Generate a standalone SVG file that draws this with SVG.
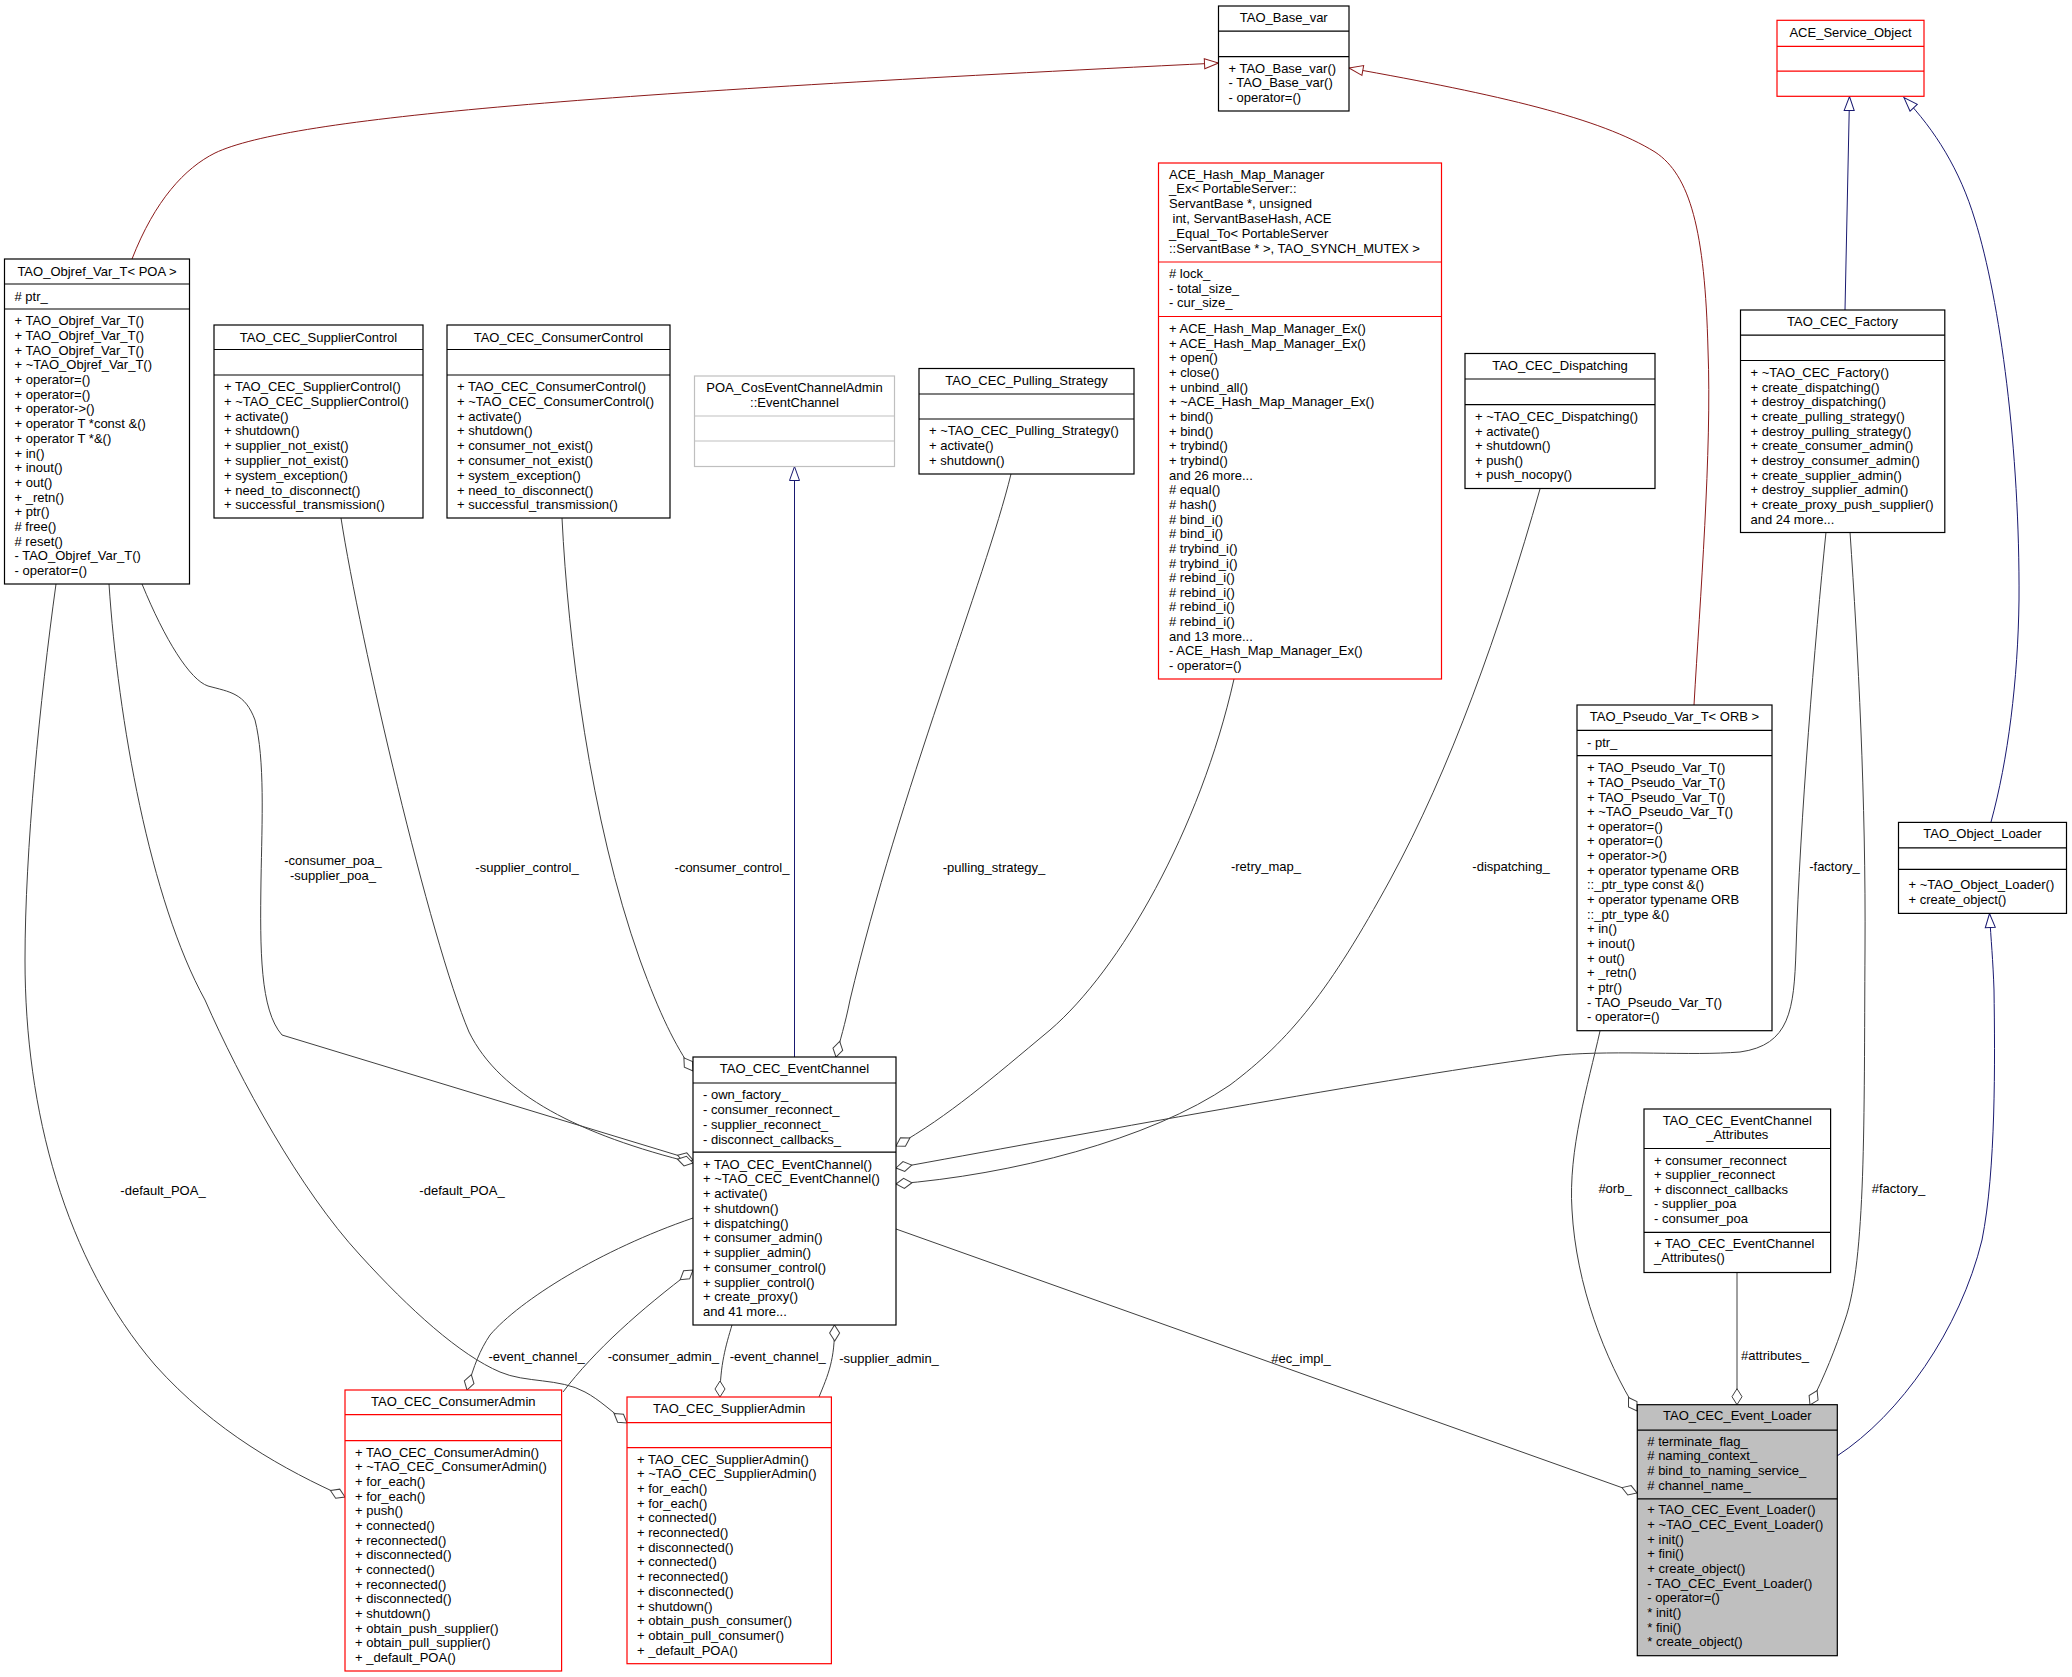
<svg xmlns="http://www.w3.org/2000/svg" width="2072" height="1677" viewBox="0 0 2072 1677">
<style>
text{font-family:"Liberation Sans",Arial,sans-serif;font-size:13px;fill:#000}
.m{text-anchor:middle}
.box{fill:#fff;stroke:#000;stroke-width:1.2}
.red{stroke:#ff0000}
.gry{stroke:#bfbfbf}
.sel{fill:#bfbfbf}
.sep{stroke:#000;stroke-width:1.2}
.sepr{stroke:#ff0000;stroke-width:1.2}
.sepg{stroke:#bfbfbf;stroke-width:1.2}
.agg{fill:none;stroke:#404040;stroke-width:1;marker-end:url(#dia)}
.inb{fill:none;stroke:#191970;stroke-width:1;marker-end:url(#trib)}
.inr{fill:none;stroke:#8b1a1a;stroke-width:1;marker-end:url(#trir)}
</style>
<defs>
<marker id="dia" markerUnits="userSpaceOnUse" markerWidth="18" markerHeight="12" refX="16" refY="5.5" orient="auto" overflow="visible"><path d="M0,5.5 L8,0.5 L16,5.5 L8,10.5 Z" fill="#fff" stroke="#404040"/></marker>
<marker id="trib" markerUnits="userSpaceOnUse" markerWidth="16" markerHeight="12" refX="14" refY="5" orient="auto" overflow="visible"><path d="M0,0 L14,5 L0,10 Z" fill="#fff" stroke="#191970"/></marker>
<marker id="trir" markerUnits="userSpaceOnUse" markerWidth="16" markerHeight="12" refX="14" refY="5" orient="auto" overflow="visible"><path d="M0,0 L14,5 L0,10 Z" fill="#fff" stroke="#8b1a1a"/></marker>
</defs>
<rect width="2072" height="1677" fill="#fff"/>

<g id="edges">
<path class="inr" d="M132,259 C155,200 185,168 215,153 C290,117 600,93 1218.5,63"/>
<path class="inr" d="M1694,705 C1700,600 1712,450 1708,350 C1705,230 1690,175 1655,152 C1600,118 1500,95 1349,68"/>
<path class="inb" d="M1845,310 L1849.5,96.5"/>
<path class="inb" d="M1991,822 C2008,760 2018,680 2019,600 C2020,450 2000,300 1975,220 C1960,170 1935,130 1904,97.6"/>
<path class="inb" d="M794.5,1057 L794.5,466.5"/>
<path class="inb" d="M1837,1456 C1900,1415 1960,1330 1982,1240 C1996,1170 1995,1060 1994,990 C1993,960 1991,940 1989.5,913.5"/>

<path class="agg" d="M142,584 C165,640 190,680 208,686 C230,692 245,693 255,720 C265,760 262,820 261,880 C260,950 260,1010 282,1035 L693,1160"/>
<path class="agg" d="M341,518 C360,640 430,940 469,1032 C500,1095 580,1135 693,1163"/>
<path class="agg" d="M562,518 C568,640 590,820 640,960 C660,1015 675,1045 693,1071"/>
<path class="agg" d="M1011,474 C985,580 900,790 850,1000 C845,1025 840,1040 836,1057"/>
<path class="agg" d="M1234,679 C1200,830 1120,970 1050,1030 C990,1080 950,1115 896,1146"/>
<path class="agg" d="M1540,489 C1500,630 1450,770 1390,880 C1330,990 1290,1040 1230,1085 C1150,1140 1010,1175 896,1184"/>
<path class="agg" d="M1826,532 C1815,640 1800,820 1796,950 C1794,1010 1790,1045 1740,1052 C1690,1056 1620,1050 1560,1055 C1400,1075 1050,1140 896,1168"/>
<path class="agg" d="M563,1392 C595,1350 640,1310 693,1270"/>
<path class="agg" d="M693,1218 C600,1250 520,1300 490,1335 C480,1350 474,1365 467,1390"/>
<path class="agg" d="M732,1325 C726,1345 720,1365 720,1397"/>
<path class="agg" d="M819,1397 C828,1375 835,1360 834.5,1325"/>
<path class="agg" d="M56,584 C40,700 25,850 25,960 C25,1110 65,1260 155,1365 C215,1432 285,1470 345,1497"/>
<path class="agg" d="M109,584 C118,720 150,900 205,1000 C240,1080 300,1190 360,1255 C410,1310 460,1355 500,1372 C525,1383 560,1378 585,1392 C600,1400 612,1412 627,1423"/>
<path class="agg" d="M896,1229 L1637,1493"/>
<path class="agg" d="M1600,1031 C1588,1085 1568,1150 1572,1210 C1576,1285 1605,1360 1637,1411"/>
<path class="agg" d="M1737,1272.5 L1737,1404.7"/>
<path class="agg" d="M1850,532 C1858,650 1866,800 1865,950 C1864,1120 1866,1260 1845,1320 C1835,1350 1825,1375 1810,1405"/>

<text class="m" x="333" y="864.5">-consumer_poa_</text>
<text class="m" x="333" y="879.5">-supplier_poa_</text>
<text class="m" x="527" y="871.5">-supplier_control_</text>
<text class="m" x="732" y="871.8">-consumer_control_</text>
<text class="m" x="994" y="871.8">-pulling_strategy_</text>
<text class="m" x="1266" y="871">-retry_map_</text>
<text class="m" x="1511" y="871">-dispatching_</text>
<text class="m" x="1834.5" y="870.8">-factory_</text>
<text class="m" x="1615" y="1193">#orb_</text>
<text class="m" x="1898.5" y="1193">#factory_</text>
<text class="m" x="1775" y="1360">#attributes_</text>
<text class="m" x="1301" y="1362.5">#ec_impl_</text>
<text class="m" x="889" y="1362.5">-supplier_admin_</text>
<text class="m" x="777.7" y="1361">-event_channel_</text>
<text class="m" x="663.4" y="1361">-consumer_admin_</text>
<text class="m" x="536.6" y="1361">-event_channel_</text>
<text class="m" x="163" y="1194.5">-default_POA_</text>
<text class="m" x="462" y="1194.5">-default_POA_</text>
</g>

<g id="n_objref">
<rect class="box" x="4.5" y="259" width="185" height="325"/>
<line class="sep" x1="4.5" y1="284" x2="189.5" y2="284"/>
<line class="sep" x1="4.5" y1="309" x2="189.5" y2="309"/>
<text class="m" x="97" y="276">TAO_Objref_Var_T&lt; POA &gt;</text>
<text x="14.5" y="300.5"># ptr_</text>
<text x="14.5" y="325.2"><tspan x="14.5">+ TAO_Objref_Var_T()</tspan><tspan x="14.5" dy="14.7">+ TAO_Objref_Var_T()</tspan><tspan x="14.5" dy="14.7">+ TAO_Objref_Var_T()</tspan><tspan x="14.5" dy="14.7">+ ~TAO_Objref_Var_T()</tspan><tspan x="14.5" dy="14.7">+ operator=()</tspan><tspan x="14.5" dy="14.7">+ operator=()</tspan><tspan x="14.5" dy="14.7">+ operator-&gt;()</tspan><tspan x="14.5" dy="14.7">+ operator T *const &amp;()</tspan><tspan x="14.5" dy="14.7">+ operator T *&amp;()</tspan><tspan x="14.5" dy="14.7">+ in()</tspan><tspan x="14.5" dy="14.7">+ inout()</tspan><tspan x="14.5" dy="14.7">+ out()</tspan><tspan x="14.5" dy="14.7">+ _retn()</tspan><tspan x="14.5" dy="14.7">+ ptr()</tspan><tspan x="14.5" dy="14.7"># free()</tspan><tspan x="14.5" dy="14.7"># reset()</tspan><tspan x="14.5" dy="14.7">- TAO_Objref_Var_T()</tspan><tspan x="14.5" dy="14.7">- operator=()</tspan></text>
</g>

<g id="n_supplier_control">
<rect class="box" x="214" y="325" width="209" height="193"/>
<line class="sep" x1="214" y1="349.5" x2="423" y2="349.5"/>
<line class="sep" x1="214" y1="375" x2="423" y2="375"/>
<text class="m" x="318.5" y="341.5">TAO_CEC_SupplierControl</text>
<text x="224" y="391"><tspan x="224">+ TAO_CEC_SupplierControl()</tspan><tspan x="224" dy="14.8">+ ~TAO_CEC_SupplierControl()</tspan><tspan x="224" dy="14.8">+ activate()</tspan><tspan x="224" dy="14.8">+ shutdown()</tspan><tspan x="224" dy="14.8">+ supplier_not_exist()</tspan><tspan x="224" dy="14.8">+ supplier_not_exist()</tspan><tspan x="224" dy="14.8">+ system_exception()</tspan><tspan x="224" dy="14.8">+ need_to_disconnect()</tspan><tspan x="224" dy="14.8">+ successful_transmission()</tspan></text>
</g>

<g id="n_consumer_control">
<rect class="box" x="447" y="325" width="223" height="193"/>
<line class="sep" x1="447" y1="349.5" x2="670" y2="349.5"/>
<line class="sep" x1="447" y1="375" x2="670" y2="375"/>
<text class="m" x="558.5" y="341.5">TAO_CEC_ConsumerControl</text>
<text x="457" y="391"><tspan x="457">+ TAO_CEC_ConsumerControl()</tspan><tspan x="457" dy="14.8">+ ~TAO_CEC_ConsumerControl()</tspan><tspan x="457" dy="14.8">+ activate()</tspan><tspan x="457" dy="14.8">+ shutdown()</tspan><tspan x="457" dy="14.8">+ consumer_not_exist()</tspan><tspan x="457" dy="14.8">+ consumer_not_exist()</tspan><tspan x="457" dy="14.8">+ system_exception()</tspan><tspan x="457" dy="14.8">+ need_to_disconnect()</tspan><tspan x="457" dy="14.8">+ successful_transmission()</tspan></text>
</g>

<g id="n_poa_eventchannel">
<rect class="box gry" x="694.5" y="376" width="200" height="90.5"/>
<line class="sepg" x1="694.5" y1="416" x2="894.5" y2="416"/>
<line class="sepg" x1="694.5" y1="441" x2="894.5" y2="441"/>
<text class="m" x="794.5" y="391.5">POA_CosEventChannelAdmin</text>
<text class="m" x="794.5" y="406.5">::EventChannel</text>
</g>

<g id="n_pulling_strategy">
<rect class="box" x="919" y="368.5" width="215" height="105.5"/>
<line class="sep" x1="919" y1="394" x2="1134" y2="394"/>
<line class="sep" x1="919" y1="419" x2="1134" y2="419"/>
<text class="m" x="1026.5" y="385">TAO_CEC_Pulling_Strategy</text>
<text x="929" y="435.3"><tspan x="929">+ ~TAO_CEC_Pulling_Strategy()</tspan><tspan x="929" dy="14.8">+ activate()</tspan><tspan x="929" dy="14.8">+ shutdown()</tspan></text>
</g>

<g id="n_base_var">
<rect class="box" x="1218.5" y="6" width="130.5" height="105"/>
<line class="sep" x1="1218.5" y1="31.2" x2="1349" y2="31.2"/>
<line class="sep" x1="1218.5" y1="56.7" x2="1349" y2="56.7"/>
<text class="m" x="1283.75" y="22">TAO_Base_var</text>
<text x="1228.5" y="72.8"><tspan x="1228.5">+ TAO_Base_var()</tspan><tspan x="1228.5" dy="14.5">- TAO_Base_var()</tspan><tspan x="1228.5" dy="14.5">- operator=()</tspan></text>
</g>

<g id="n_hash_map">
<rect class="box red" x="1158.5" y="163" width="283" height="516"/>
<line class="sepr" x1="1158.5" y1="262" x2="1441.5" y2="262"/>
<line class="sepr" x1="1158.5" y1="316.5" x2="1441.5" y2="316.5"/>
<text x="1169" y="178.6"><tspan x="1169">ACE_Hash_Map_Manager</tspan><tspan x="1169" dy="14.8">_Ex&lt; PortableServer::</tspan><tspan x="1169" dy="14.8">ServantBase *, unsigned</tspan><tspan x="1172.5" dy="14.8">int, ServantBaseHash, ACE</tspan><tspan x="1169" dy="14.8">_Equal_To&lt; PortableServer</tspan><tspan x="1169" dy="14.8">::ServantBase * &gt;, TAO_SYNCH_MUTEX &gt;</tspan></text>
<text x="1169" y="277.7"><tspan x="1169"># lock_</tspan><tspan x="1169" dy="14.8">- total_size_</tspan><tspan x="1169" dy="14.8">- cur_size_</tspan></text>
<text x="1169" y="333.1"><tspan x="1169">+ ACE_Hash_Map_Manager_Ex()</tspan><tspan x="1169" dy="14.65">+ ACE_Hash_Map_Manager_Ex()</tspan><tspan x="1169" dy="14.65">+ open()</tspan><tspan x="1169" dy="14.65">+ close()</tspan><tspan x="1169" dy="14.65">+ unbind_all()</tspan><tspan x="1169" dy="14.65">+ ~ACE_Hash_Map_Manager_Ex()</tspan><tspan x="1169" dy="14.65">+ bind()</tspan><tspan x="1169" dy="14.65">+ bind()</tspan><tspan x="1169" dy="14.65">+ trybind()</tspan><tspan x="1169" dy="14.65">+ trybind()</tspan><tspan x="1169" dy="14.65">and 26 more...</tspan><tspan x="1169" dy="14.65"># equal()</tspan><tspan x="1169" dy="14.65"># hash()</tspan><tspan x="1169" dy="14.65"># bind_i()</tspan><tspan x="1169" dy="14.65"># bind_i()</tspan><tspan x="1169" dy="14.65"># trybind_i()</tspan><tspan x="1169" dy="14.65"># trybind_i()</tspan><tspan x="1169" dy="14.65"># rebind_i()</tspan><tspan x="1169" dy="14.65"># rebind_i()</tspan><tspan x="1169" dy="14.65"># rebind_i()</tspan><tspan x="1169" dy="14.65"># rebind_i()</tspan><tspan x="1169" dy="14.65">and 13 more...</tspan><tspan x="1169" dy="14.65">- ACE_Hash_Map_Manager_Ex()</tspan><tspan x="1169" dy="14.65">- operator=()</tspan></text>
</g>

<g id="n_dispatching">
<rect class="box" x="1465" y="353.5" width="190" height="135"/>
<line class="sep" x1="1465" y1="379" x2="1655" y2="379"/>
<line class="sep" x1="1465" y1="404.7" x2="1655" y2="404.7"/>
<text class="m" x="1560" y="370">TAO_CEC_Dispatching</text>
<text x="1475" y="421.2"><tspan x="1475">+ ~TAO_CEC_Dispatching()</tspan><tspan x="1475" dy="14.5">+ activate()</tspan><tspan x="1475" dy="14.5">+ shutdown()</tspan><tspan x="1475" dy="14.5">+ push()</tspan><tspan x="1475" dy="14.5">+ push_nocopy()</tspan></text>
</g>

<g id="n_service_object">
<rect class="box red" x="1777" y="20.3" width="147" height="76"/>
<line class="sepr" x1="1777" y1="46.3" x2="1924" y2="46.3"/>
<line class="sepr" x1="1777" y1="71.2" x2="1924" y2="71.2"/>
<text class="m" x="1850.5" y="37">ACE_Service_Object</text>
</g>

<g id="n_factory">
<rect class="box" x="1740.5" y="310" width="204.3" height="222.5"/>
<line class="sep" x1="1740.5" y1="335.2" x2="1944.8" y2="335.2"/>
<line class="sep" x1="1740.5" y1="360.5" x2="1944.8" y2="360.5"/>
<text class="m" x="1842.6" y="326">TAO_CEC_Factory</text>
<text x="1750.5" y="376.9"><tspan x="1750.5">+ ~TAO_CEC_Factory()</tspan><tspan x="1750.5" dy="14.66">+ create_dispatching()</tspan><tspan x="1750.5" dy="14.66">+ destroy_dispatching()</tspan><tspan x="1750.5" dy="14.66">+ create_pulling_strategy()</tspan><tspan x="1750.5" dy="14.66">+ destroy_pulling_strategy()</tspan><tspan x="1750.5" dy="14.66">+ create_consumer_admin()</tspan><tspan x="1750.5" dy="14.66">+ destroy_consumer_admin()</tspan><tspan x="1750.5" dy="14.66">+ create_supplier_admin()</tspan><tspan x="1750.5" dy="14.66">+ destroy_supplier_admin()</tspan><tspan x="1750.5" dy="14.66">+ create_proxy_push_supplier()</tspan><tspan x="1750.5" dy="14.66">and 24 more...</tspan></text>
</g>

<g id="n_pseudo_var">
<rect class="box" x="1577" y="705" width="195" height="325.7"/>
<line class="sep" x1="1577" y1="730.3" x2="1772" y2="730.3"/>
<line class="sep" x1="1577" y1="755.7" x2="1772" y2="755.7"/>
<text class="m" x="1674.5" y="721.2">TAO_Pseudo_Var_T&lt; ORB &gt;</text>
<text x="1587" y="747.2">- ptr_</text>
<text x="1587" y="772.2"><tspan x="1587">+ TAO_Pseudo_Var_T()</tspan><tspan x="1587" dy="14.65">+ TAO_Pseudo_Var_T()</tspan><tspan x="1587" dy="14.65">+ TAO_Pseudo_Var_T()</tspan><tspan x="1587" dy="14.65">+ ~TAO_Pseudo_Var_T()</tspan><tspan x="1587" dy="14.65">+ operator=()</tspan><tspan x="1587" dy="14.65">+ operator=()</tspan><tspan x="1587" dy="14.65">+ operator-&gt;()</tspan><tspan x="1587" dy="14.65">+ operator typename ORB</tspan><tspan x="1587" dy="14.65">::_ptr_type const &amp;()</tspan><tspan x="1587" dy="14.65">+ operator typename ORB</tspan><tspan x="1587" dy="14.65">::_ptr_type &amp;()</tspan><tspan x="1587" dy="14.65">+ in()</tspan><tspan x="1587" dy="14.65">+ inout()</tspan><tspan x="1587" dy="14.65">+ out()</tspan><tspan x="1587" dy="14.65">+ _retn()</tspan><tspan x="1587" dy="14.65">+ ptr()</tspan><tspan x="1587" dy="14.65">- TAO_Pseudo_Var_T()</tspan><tspan x="1587" dy="14.65">- operator=()</tspan></text>
</g>

<g id="n_object_loader">
<rect class="box" x="1898.5" y="822.4" width="168" height="91"/>
<line class="sep" x1="1898.5" y1="847.8" x2="2066.5" y2="847.8"/>
<line class="sep" x1="1898.5" y1="869.4" x2="2066.5" y2="869.4"/>
<text class="m" x="1982.5" y="838.3">TAO_Object_Loader</text>
<text x="1908.5" y="888.5"><tspan x="1908.5">+ ~TAO_Object_Loader()</tspan><tspan x="1908.5" dy="15">+ create_object()</tspan></text>
</g>

<g id="n_attributes">
<rect class="box" x="1644" y="1109" width="186.6" height="163.5"/>
<line class="sep" x1="1644" y1="1148.5" x2="1830.6" y2="1148.5"/>
<line class="sep" x1="1644" y1="1232.4" x2="1830.6" y2="1232.4"/>
<text class="m" x="1737.3" y="1124.5">TAO_CEC_EventChannel</text>
<text class="m" x="1737.3" y="1138.5">_Attributes</text>
<text x="1654" y="1164.5"><tspan x="1654">+ consumer_reconnect</tspan><tspan x="1654" dy="14.5">+ supplier_reconnect</tspan><tspan x="1654" dy="14.5">+ disconnect_callbacks</tspan><tspan x="1654" dy="14.5">- supplier_poa</tspan><tspan x="1654" dy="14.5">- consumer_poa</tspan></text>
<text x="1654" y="1248.4"><tspan x="1654">+ TAO_CEC_EventChannel</tspan><tspan x="1654" dy="14">_Attributes()</tspan></text>
</g>

<g id="n_event_loader">
<rect class="box sel" x="1637.3" y="1404.7" width="200" height="251"/>
<line class="sep" x1="1637.3" y1="1430.2" x2="1837.3" y2="1430.2"/>
<line class="sep" x1="1637.3" y1="1498.8" x2="1837.3" y2="1498.8"/>
<text class="m" x="1737.3" y="1420">TAO_CEC_Event_Loader</text>
<text x="1647.3" y="1445.5"><tspan x="1647.3"># terminate_flag_</tspan><tspan x="1647.3" dy="14.8"># naming_context_</tspan><tspan x="1647.3" dy="14.8"># bind_to_naming_service_</tspan><tspan x="1647.3" dy="14.8"># channel_name_</tspan></text>
<text x="1647.3" y="1514.1"><tspan x="1647.3">+ TAO_CEC_Event_Loader()</tspan><tspan x="1647.3" dy="14.7">+ ~TAO_CEC_Event_Loader()</tspan><tspan x="1647.3" dy="14.7">+ init()</tspan><tspan x="1647.3" dy="14.7">+ fini()</tspan><tspan x="1647.3" dy="14.7">+ create_object()</tspan><tspan x="1647.3" dy="14.7">- TAO_CEC_Event_Loader()</tspan><tspan x="1647.3" dy="14.7">- operator=()</tspan><tspan x="1647.3" dy="14.7">* init()</tspan><tspan x="1647.3" dy="14.7">* fini()</tspan><tspan x="1647.3" dy="14.7">* create_object()</tspan></text>
</g>

<g id="n_event_channel">
<rect class="box" x="693" y="1057" width="203" height="268"/>
<line class="sep" x1="693" y1="1083" x2="896" y2="1083"/>
<line class="sep" x1="693" y1="1152.2" x2="896" y2="1152.2"/>
<text class="m" x="794.5" y="1073">TAO_CEC_EventChannel</text>
<text x="703" y="1099.4"><tspan x="703">- own_factory_</tspan><tspan x="703" dy="14.7">- consumer_reconnect_</tspan><tspan x="703" dy="14.7">- supplier_reconnect_</tspan><tspan x="703" dy="14.7">- disconnect_callbacks_</tspan></text>
<text x="703" y="1168.5"><tspan x="703">+ TAO_CEC_EventChannel()</tspan><tspan x="703" dy="14.77">+ ~TAO_CEC_EventChannel()</tspan><tspan x="703" dy="14.77">+ activate()</tspan><tspan x="703" dy="14.77">+ shutdown()</tspan><tspan x="703" dy="14.77">+ dispatching()</tspan><tspan x="703" dy="14.77">+ consumer_admin()</tspan><tspan x="703" dy="14.77">+ supplier_admin()</tspan><tspan x="703" dy="14.77">+ consumer_control()</tspan><tspan x="703" dy="14.77">+ supplier_control()</tspan><tspan x="703" dy="14.77">+ create_proxy()</tspan><tspan x="703" dy="14.77">and 41 more...</tspan></text>
</g>

<g id="n_consumer_admin">
<rect class="box red" x="345" y="1390" width="216.6" height="281"/>
<line class="sepr" x1="345" y1="1414.7" x2="561.6" y2="1414.7"/>
<line class="sepr" x1="345" y1="1440.6" x2="561.6" y2="1440.6"/>
<text class="m" x="453.3" y="1406">TAO_CEC_ConsumerAdmin</text>
<text x="355" y="1456.7"><tspan x="355">+ TAO_CEC_ConsumerAdmin()</tspan><tspan x="355" dy="14.66">+ ~TAO_CEC_ConsumerAdmin()</tspan><tspan x="355" dy="14.66">+ for_each()</tspan><tspan x="355" dy="14.66">+ for_each()</tspan><tspan x="355" dy="14.66">+ push()</tspan><tspan x="355" dy="14.66">+ connected()</tspan><tspan x="355" dy="14.66">+ reconnected()</tspan><tspan x="355" dy="14.66">+ disconnected()</tspan><tspan x="355" dy="14.66">+ connected()</tspan><tspan x="355" dy="14.66">+ reconnected()</tspan><tspan x="355" dy="14.66">+ disconnected()</tspan><tspan x="355" dy="14.66">+ shutdown()</tspan><tspan x="355" dy="14.66">+ obtain_push_supplier()</tspan><tspan x="355" dy="14.66">+ obtain_pull_supplier()</tspan><tspan x="355" dy="14.66">+ _default_POA()</tspan></text>
</g>

<g id="n_supplier_admin">
<rect class="box red" x="627" y="1397" width="204.4" height="266.7"/>
<line class="sepr" x1="627" y1="1422.7" x2="831.4" y2="1422.7"/>
<line class="sepr" x1="627" y1="1447.7" x2="831.4" y2="1447.7"/>
<text class="m" x="729.2" y="1412.8">TAO_CEC_SupplierAdmin</text>
<text x="637" y="1463.8"><tspan x="637">+ TAO_CEC_SupplierAdmin()</tspan><tspan x="637" dy="14.67">+ ~TAO_CEC_SupplierAdmin()</tspan><tspan x="637" dy="14.67">+ for_each()</tspan><tspan x="637" dy="14.67">+ for_each()</tspan><tspan x="637" dy="14.67">+ connected()</tspan><tspan x="637" dy="14.67">+ reconnected()</tspan><tspan x="637" dy="14.67">+ disconnected()</tspan><tspan x="637" dy="14.67">+ connected()</tspan><tspan x="637" dy="14.67">+ reconnected()</tspan><tspan x="637" dy="14.67">+ disconnected()</tspan><tspan x="637" dy="14.67">+ shutdown()</tspan><tspan x="637" dy="14.67">+ obtain_push_consumer()</tspan><tspan x="637" dy="14.67">+ obtain_pull_consumer()</tspan><tspan x="637" dy="14.67">+ _default_POA()</tspan></text>
</g>
</svg>
